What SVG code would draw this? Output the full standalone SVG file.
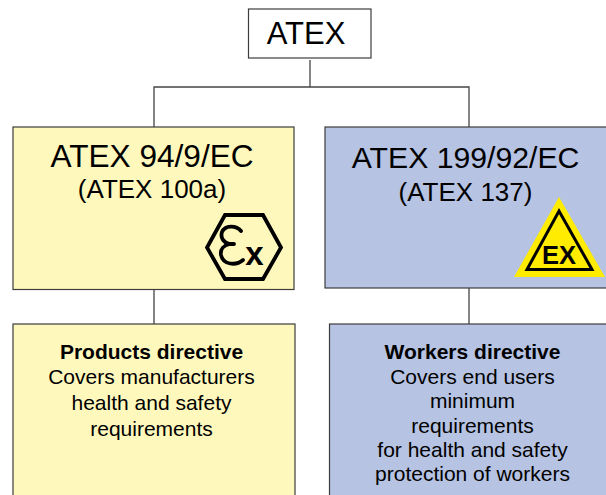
<svg xmlns="http://www.w3.org/2000/svg" width="606" height="495" viewBox="0 0 606 495">
<style>
text{font-family:"Liberation Sans",Arial,sans-serif;fill:#000;text-anchor:middle}
.box{stroke:#3c3c3c;stroke-width:1.2}
.c{fill:none;stroke:#444;stroke-width:1.3}
.t1{font-size:31px}.t2{font-size:26px}.t3{font-size:21px}
.bd{font-weight:bold}
</style>
<rect width="606" height="495" fill="#fff"/>
<g id="connectors">
<path class="c" d="M310 60V87M154 127V87H469V127"/>
<path class="c" d="M154 290V324M469 288V324"/>
</g>
<g id="atex"><rect class="box" x="248.500" y="9" width="122.500" height="49" fill="#fff"/><text x="306" y="44" class="t1">ATEX</text></g>
<g id="directive94">
<rect class="box" x="13" y="127" width="281" height="162.500" style="fill:#fff8bd"/>
<text x="152" y="167" style="font-size:31.600px">ATEX 94/9/EC</text>
<text x="152" y="198" class="t2">(ATEX 100a)</text>
<path d="M225 215H263L281 247.500L263 279H225L207 247.500Z" fill="none" stroke="#000" stroke-width="3.800"/>
<path d="M241 231C236 225 225 225 222 232C220 238 224 243 230 244C224 245 220 249 221 255C223 265 236 266 243 260M226 244H234" fill="none" stroke="#000" stroke-width="3.800" stroke-linecap="round"/>
<text x="254.500" y="265" style="font-size:33px" class="bd">x</text>
</g>
<g id="directive199">
<rect class="box" x="325" y="127" width="285" height="161" style="fill:#b6c3e2"/>
<text x="465.500" y="168" style="font-size:30.200px">ATEX 199/92/EC</text>
<text x="465.500" y="201" class="t2">(ATEX 137)</text>
<path d="M559 197L605 277H514Z" fill="#ffec00"/>
<path d="M559 211L592 269.500H527Z" fill="none" stroke="#000" stroke-width="3"/>
<text x="559" y="264" style="font-size:25.500px" class="bd">EX</text>
</g>
<g id="products">
<rect class="box" x="13" y="324" width="282" height="175" style="fill:#fff8bd"/>
<text x="151.500" y="359" class="t3 bd">Products directive</text>
<text x="151.500" y="384" class="t3">Covers manufacturers</text>
<text x="151.500" y="410" class="t3">health and safety</text>
<text x="151.500" y="436" class="t3">requirements</text>
</g>
<g id="workers">
<rect class="box" x="329.500" y="324" width="280" height="175" style="fill:#b6c3e2"/>
<text x="472.500" y="359" class="t3 bd">Workers directive</text>
<text x="472.500" y="384" class="t3">Covers end users</text>
<text x="472.500" y="408" class="t3">minimum</text>
<text x="472.500" y="433" class="t3">requirements</text>
<text x="472.500" y="457" class="t3">for health and safety</text>
<text x="472.500" y="481" class="t3">protection of workers</text>
</g>
</svg>
